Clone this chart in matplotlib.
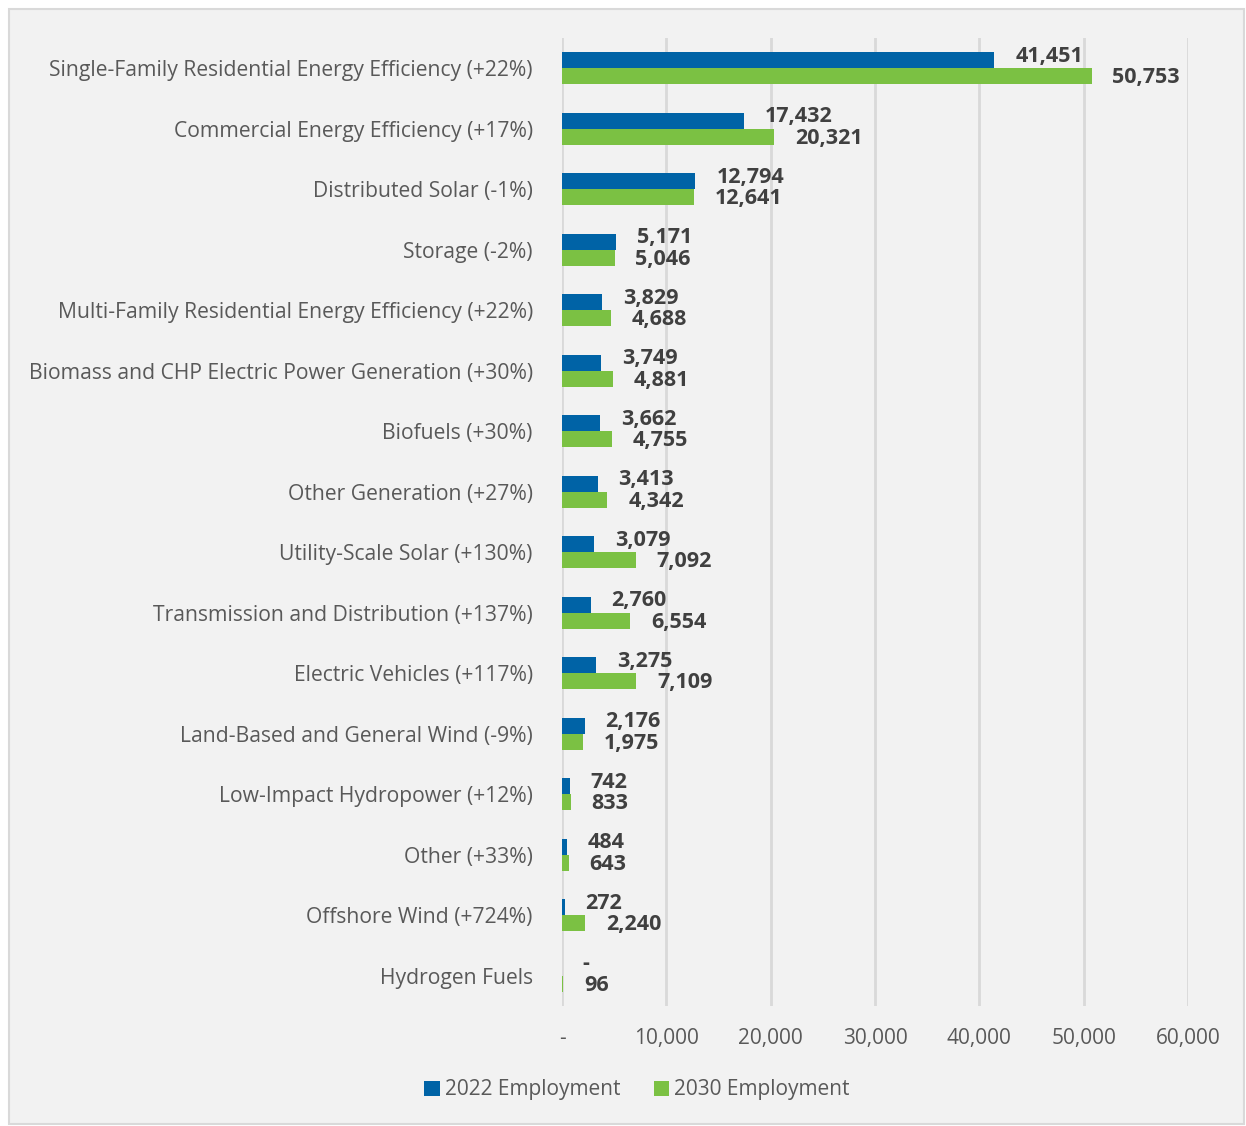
import matplotlib
matplotlib.use("Agg")
import matplotlib.pyplot as plt
from matplotlib.patches import Rectangle
from matplotlib.ticker import FuncFormatter

categories = [
    "Single-Family Residential Energy Efficiency (+22%)",
    "Commercial Energy Efficiency (+17%)",
    "Distributed Solar (-1%)",
    "Storage (-2%)",
    "Multi-Family Residential Energy Efficiency (+22%)",
    "Biomass and CHP Electric Power Generation (+30%)",
    "Biofuels (+30%)",
    "Other Generation (+27%)",
    "Utility-Scale Solar (+130%)",
    "Transmission and Distribution (+137%)",
    "Electric Vehicles (+117%)",
    "Land-Based and General Wind (-9%)",
    "Low-Impact Hydropower (+12%)",
    "Other (+33%)",
    "Offshore Wind (+724%)",
    "Hydrogen Fuels",
]
emp_2022 = [41451, 17432, 12794, 5171, 3829, 3749, 3662, 3413, 3079, 2760, 3275, 2176, 742, 484, 272, 0]
emp_2030 = [50753, 20321, 12641, 5046, 4688, 4881, 4755, 4342, 7092, 6554, 7109, 1975, 833, 643, 2240, 96]
series_names = ["2022 Employment", "2030 Employment"]
x_ticks = [0, 10000, 20000, 30000, 40000, 50000, 60000]

BLUE = "#0063a6"
GREEN = "#7bc143"
BG = "#f2f2f2"
FONT = "Open Sans"

plt.rcParams["font.family"] = [FONT, "DejaVu Sans"]

W, H = 1246, 1126
fig = plt.figure(figsize=(W / 100, H / 100), dpi=100)
fig.patch.set_facecolor("white")
bgrect = Rectangle((9 / W, 2 / H), (W - 11) / W, (H - 11) / H,
                   transform=fig.transFigure, facecolor=BG,
                   edgecolor="#d9d9d9", linewidth=1.5, zorder=-10)
fig.patches.append(bgrect)

left, right, top, bottom = 562, 1188, 38, 1006
ax = fig.add_axes([left / W, 1 - bottom / H, (right - left) / W, (bottom - top) / H])
ax.set_facecolor("none")
ax.set_zorder(1)

n = len(categories)
ys = list(range(n))
h = 0.265
y_b = [y - h / 2 for y in ys]
y_g = [y + h / 2 for y in ys]
ax.barh(y_b, emp_2022, height=h, color=BLUE, label=series_names[0], zorder=3)
ax.barh(y_g, emp_2030, height=h, color=GREEN, label=series_names[1], zorder=3)

ax.set_xlim(0, 60000)
ax.set_ylim(n - 0.5, -0.5)
ax.set_xticks(x_ticks)
fmt = lambda v, p: "-" if v == 0 else f"{int(v):,}"
ax.xaxis.set_major_formatter(FuncFormatter(fmt))
ax.set_yticks(ys)
ax.set_yticklabels(categories)
ax.tick_params(axis="y", length=0, pad=21, labelsize=15.2, labelcolor="#595959")
ax.tick_params(axis="x", length=0, pad=16, labelsize=15, labelcolor="#595959")
ax.grid(axis="x", color="#d9d9d9", linewidth=2, zorder=0)
for s in ax.spines.values():
    s.set_visible(False)

lab_kw = dict(textcoords="offset points", ha="left", va="center",
              fontsize=15.5, fontweight="bold", color="#404040", zorder=4)
for y, v in zip(y_b, emp_2022):
    ax.annotate(fmt(v, None), (v, y), xytext=(15, 3), **lab_kw)
for y, v in zip(y_g, emp_2030):
    ax.annotate(fmt(v, None), (v, y), xytext=(15, -1), **lab_kw)

fig.legend(loc="center", bbox_to_anchor=(637 / W, 1 - 1090 / H), ncol=2,
           frameon=False, handlelength=0.75, handleheight=0.75,
           handletextpad=0.25, columnspacing=1.6,
           prop={"family": FONT, "size": 15}, labelcolor="#595959")

fig.savefig("out.png", dpi=100, facecolor=fig.get_facecolor())
